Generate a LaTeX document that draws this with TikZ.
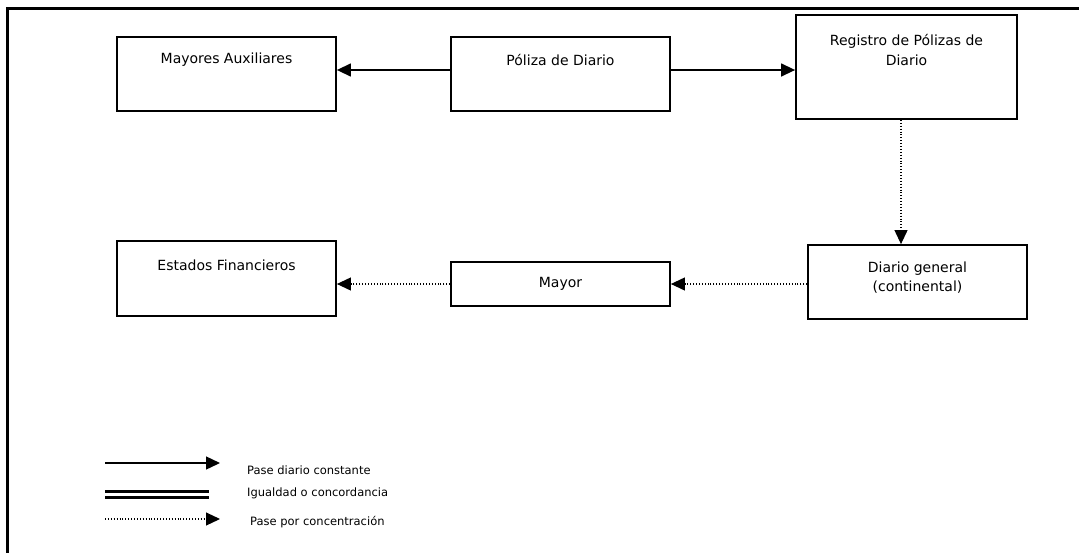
\documentclass[tikz,border=0pt]{standalone}
\usepackage{fontspec}
\setmainfont{DejaVu Sans}
\usetikzlibrary{arrows.meta}

\tikzset{
  box/.style={draw=black, line width=1.8pt, fill=white, inner sep=0pt},
  boxtext/.style={font=\fontsize{14}{17}\selectfont, align=center, inner sep=0pt},
  legtext/.style={font=\fontsize{11.5}{14}\selectfont, anchor=west, inner sep=0pt},
  tip/.style={-{Triangle[length=14pt,width=13pt]}},
  flow/.style={tip, line width=1.4pt},
  conc/.style={tip, line width=1.1pt, dash pattern=on 1pt off 1.9pt},
  frame/.style={line width=3pt}
}

\begin{document}
\begin{tikzpicture}[x=1pt, y=-1pt]
  \useasboundingbox (0,0) rectangle (1079,552);
  \clip (0,0) rectangle (1079,552);
  \fill[white] (0,0) rectangle (1079,552);

  % outer frame (runs past the right and lower page edges)
  \draw[frame] (7,600) -- (7,8) -- (1120,8);

  % boxes
  \node[box, minimum width=219pt, minimum height=74pt] (aux) at (226.5,74) {};
  \node[box, minimum width=219pt, minimum height=74pt] (poliza) at (560.5,74) {};
  \node[box, minimum width=221pt, minimum height=104pt] (registro) at (906.5,67) {};
  \node[box, minimum width=219pt, minimum height=74pt] (diario) at (917.5,282) {};
  \node[box, minimum width=219pt, minimum height=44pt] (mayor) at (560.5,284) {};
  \node[box, minimum width=219pt, minimum height=75pt] (estados) at (226.5,278.5) {};

  % box captions
  \node[boxtext] (auxtxt) at (aux.center |- 0,60) {Mayores Auxiliares};
  \node[boxtext] (politxt) at (poliza.center |- 0,60) {Póliza de Diario};
  \node[boxtext] (regtxt) at (registro.center |- 0,49.5) {Registro de Pólizas de\\[3pt]Diario};
  \node[boxtext] (diatxt) at (diario.center |- 0,278) {Diario general\\[2pt](continental)};
  \node[boxtext] (maytxt) at (mayor.center) {Mayor};
  \node[boxtext] (esttxt) at (estados.center |- 0,265) {Estados Financieros};

  % connectors
  \draw[flow] (poliza.west |- 0,70) -- (aux.east |- 0,70);
  \draw[flow] (poliza.east |- 0,70) -- (registro.west |- 0,70);
  \draw[conc] (registro.south -| 901,0) -- (diario.north -| 901,0);
  \draw[conc] (diario.west |- 0,284) -- (mayor.east |- 0,284);
  \draw[conc] (mayor.west |- 0,284) -- (estados.east |- 0,284);

  % legend
  \coordinate (l1a) at (105,463);
  \coordinate (l1b) at (220,463);
  \coordinate (l2a) at (105,494.5);
  \coordinate (l2b) at (209,494.5);
  \coordinate (l3a) at (105,519);
  \coordinate (l3b) at (220,519);
  \draw[flow] (l1a) -- (l1b);
  \draw[line width=2.4pt, double=white, double distance=3.6pt] (l2a) -- (l2b);
  \draw[conc] (l3a) -- (l3b);
  \node[legtext] (leg1) at (247,470) {Pase diario constante};
  \node[legtext] (leg2) at (247,493) {Igualdad o concordancia};
  \node[legtext] (leg3) at (250,522) {Pase por concentración};
\end{tikzpicture}
\end{document}
